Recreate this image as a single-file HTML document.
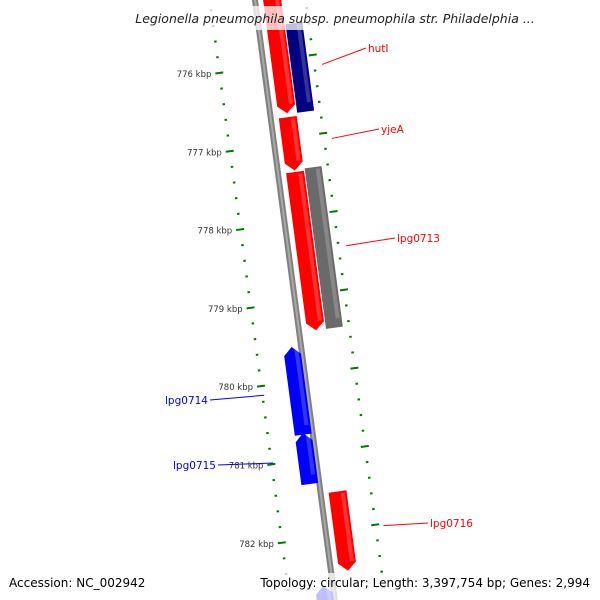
<!DOCTYPE html>
<html><head><meta charset="utf-8"><style>
html,body{margin:0;padding:0;background:#fff;width:600px;height:600px;overflow:hidden}
svg{display:block;font-family:"DejaVu Sans","Liberation Sans",sans-serif}
</style></head><body>
<svg id="map" width="600" height="600" viewBox="0 0 600 600">
<rect width="600" height="600" fill="#fff"/>
<g id="plot"></g>
<rect x="0" y="6" width="600" height="24" fill="#fff" opacity="0.75"/>
<text x="335" y="23" text-anchor="middle" font-size="12.5" font-style="italic" fill="#222">Legionella pneumophila subsp. pneumophila str. Philadelphia ...</text>
<rect x="0" y="573" width="600" height="27" fill="#fff" opacity="0.75"/>
<text x="9" y="587" font-size="12" fill="#000">Accession: NC_002942</text>
<text x="590" y="587" text-anchor="end" font-size="12" fill="#000">Topology: circular; Length: 3,397,754 bp; Genes: 2,994</text>
</svg>
<script>
const geneNames = ["", "hutI", "yjeA", "lpg0713", "", "lpg0714", "lpg0715", "lpg0716", ""];
const geneStarts = [775.11, 775.50, 776.67, 777.37, 777.34, 779.56, 780.66, 781.45, 782.61];
const geneEnds = [776.62, 776.63, 777.35, 779.39, 779.39, 780.68, 781.31, 782.46, 782.93];
const geneTracks = ["fwd", "outer", "fwd", "fwd", "outer", "rev", "rev", "fwd", "rev"];
const geneColors = ["#ff0000", "#000080", "#ff0000", "#ff0000", "#6a6a6a", "#0000ff", "#0000ff", "#ff0000", "#0000ff"];
const geneLabelColors = ["#ff0000", "#ff0000", "#ff0000", "#ff0000", "#ff0000", "#0000ff", "#0000ff", "#ff0000", "#0000ff"];
const tickKbp = [775, 776, 777, 778, 779, 780, 781, 782, 783];
const tickLabels = ["775 kbp", "776 kbp", "777 kbp", "778 kbp", "779 kbp", "780 kbp", "781 kbp", "782 kbp", "783 kbp"];

const NS = "http://www.w3.org/2000/svg";
const plot = document.getElementById("plot");
const ang = Math.atan(0.133), C = Math.cos(ang), S = Math.sin(ang);
function toScreen(v, u) { return [255 + v * C + u * S, -v * S + u * C]; }
function uOf(k) { return (67 + (k - 776) * 78.3) / C; }
function pts(arr) { return arr.map(p => toScreen(p[0], p[1]).map(n => n.toFixed(1)).join(",")).join(" "); }
function mk(tag, attrs) { const e = document.createElementNS(NS, tag); for (const k in attrs) e.setAttribute(k, attrs[k]); return e; }
const tracks = { fwd: [8, 26], outer: [27, 44], rev: [-18, -1] };

let bb = mk("polygon", { points: pts([[-3, -20], [3, -20], [3, 640], [-3, 640]]), fill: "#808080" });


plot.appendChild(bb);
let bbh = mk("polygon", { points: pts([[-1, -20], [1, -20], [1, 640], [-1, 640]]), fill: "#a8a8a8" });


plot.appendChild(bbh);

for (let k = 775.2; k <= 782.81; k += 0.2) {
  const kk = Math.round(k * 10) / 10;
  const major = Math.abs(kk - Math.round(kk)) < 0.01;
  const u = uOf(kk);
  const a = toScreen(major ? -49 : -46, u), b = toScreen(major ? -41 : -43.5, u);
  const t = mk("line", { x1: a[0], y1: a[1], x2: b[0], y2: b[1], stroke: "#007a00", "stroke-width": 2 });
  
  
  plot.appendChild(t);
}
tickKbp.forEach((k, i) => {
  const p = toScreen(-53, uOf(k));
  if (p[1] < 40 || p[1] > 570) return;
  const t = mk("text", { x: p[0], y: p[1] + 3, "text-anchor": "end", "font-size": 8.5, fill: "#333" });
  t.textContent = tickLabels[i];
  
  
  plot.appendChild(t);
});
for (let n = 0; n <= 44; n++) {
  const kk = 775.13 + n * 0.2;
  const major = n % 5 === 4;
  const u = uOf(kk);
  const a = toScreen(major ? 46 : 49, u), b = toScreen(major ? 54 : 51.5, u);
  const t = mk("line", { x1: a[0], y1: a[1], x2: b[0], y2: b[1], stroke: "#007a00", "stroke-width": 2 });
  
  
  plot.appendChild(t);
}

const labelPos = { "hutI": [368, 52, "start"], "yjeA": [381, 133, "start"], "lpg0713": [397, 242, "start"], "lpg0716": [430, 527, "start"], "lpg0714": [208, 404, "end"], "lpg0715": [216, 469, "end"] };
geneStarts.forEach((s, i) => {
  const e = geneEnds[i], tr = tracks[geneTracks[i]];
  const u0 = uOf(s), u1 = uOf(e), v0 = tr[0], v1 = tr[1], vm = (v0 + v1) / 2;
  let poly;
  if (geneTracks[i] === "fwd") poly = [[v0, u0], [v1, u0], [v1, u1 - 8], [vm, u1], [v0, u1 - 8]];
  else if (geneTracks[i] === "rev") poly = [[vm, u0], [v1, u0 + 8], [v1, u1], [v0, u1], [v0, u0 + 8]];
  else poly = [[v0, u0], [v1, u0], [v1, u1], [v0, u1]];
  const g = mk("polygon", { points: pts(poly), fill: geneColors[i] });
  
  
  plot.appendChild(g);
  const hl = mk("polygon", { points: pts([[v1 - 6, u0 + 2], [v1 - 2, u0 + 2], [v1 - 2, u1 - 9], [v1 - 6, u1 - 9]]), fill: "#fff", opacity: 0.2 });
  
  
  plot.appendChild(hl);
  const nm = geneNames[i];
  if (nm && labelPos[nm]) {
    const lp = labelPos[nm];
    const anchor = toScreen(lp[2] === "start" ? 58 : -43, (u0 + u1) / 2);
    const lx = lp[2] === "start" ? lp[0] - 2 : lp[0] + 2;
    const ln = mk("line", { x1: anchor[0], y1: anchor[1], x2: lx, y2: lp[1] - 4, stroke: geneLabelColors[i], "stroke-width": 1 });
    
    
    plot.appendChild(ln);
    const tx = mk("text", { x: lp[0], y: lp[1], "text-anchor": lp[2], "font-size": 10.5, fill: geneLabelColors[i] });
    tx.textContent = nm;
    
    
    plot.appendChild(tx);
  }
});
</script>
</body></html>
